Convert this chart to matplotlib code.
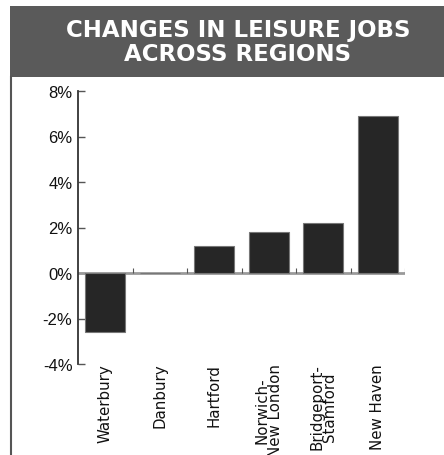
import numpy as np
import matplotlib
matplotlib.use('Agg')
import matplotlib.pyplot as plt
from matplotlib.patches import Rectangle
from matplotlib.lines import Line2D

# leisure job change by region, percent
regions = ['Waterbury', 'Danbury', 'Hartford', 'Norwich-\nNew London',
           'Bridgeport-\nStamford', 'New Haven']
change = [-2.6, 0.0, 1.2, 1.8, 2.2, 6.9]
yticks = [-4, -2, 0, 2, 4, 6, 8]

W, H = 444, 456
fig = plt.figure(figsize=(W / 100, H / 100), dpi=100)

# dark title band and the rule down the left side
fig.add_artist(Rectangle((10 / W, 1 - 78 / H), 1, 71 / H,
                         transform=fig.transFigure, color='#5a5a5a', lw=0))
fig.add_artist(Line2D([11 / W, 11 / W], [0, 1 - 78 / H],
                      transform=fig.transFigure, color='#555555', lw=1.5))
fig.text(238 / W, 1 - 42.5 / H, 'CHANGES IN LEISURE JOBS\nACROSS REGIONS',
         color='white', fontsize=16.5, fontweight='bold', family='DejaVu Sans',
         ha='center', va='center', linespacing=1.05)

ax = fig.add_axes([78 / W, 1 - 365 / H, 327 / W, 273 / H])
x = np.arange(len(regions))
ax.bar(x, change, width=0.73, color='#262626', edgecolor='#777777', lw=0.8, zorder=3)
ax.axhline(0, color='#9a9a9a', lw=2, zorder=2)
ax.vlines(x + 0.5, 0, 0.2, color='#555555', lw=0.8, zorder=2)

ax.set_xlim(-0.5, 5.5)
ax.set_ylim(-4, 8)
ax.set_yticks(yticks)
ax.set_yticklabels(['%d%%' % v for v in yticks], family='Liberation Sans',
                   fontsize=12, color='#111111')
ax.tick_params(axis='y', direction='in', length=5, width=1, color='#555555', pad=4)
ax.set_xticks([])
for s in ['top', 'right', 'bottom']:
    ax.spines[s].set_visible(False)
ax.spines['left'].set_color('#333333')
ax.spines['left'].set_linewidth(1.3)

for i, name in enumerate(regions):
    ax.text(i, -3.95, name, rotation=90, ha='center', va='top',
            family='DejaVu Sans', fontsize=10.8, color='#111111',
            linespacing=0.85, multialignment='center')

fig.savefig('out.png', dpi=100)
